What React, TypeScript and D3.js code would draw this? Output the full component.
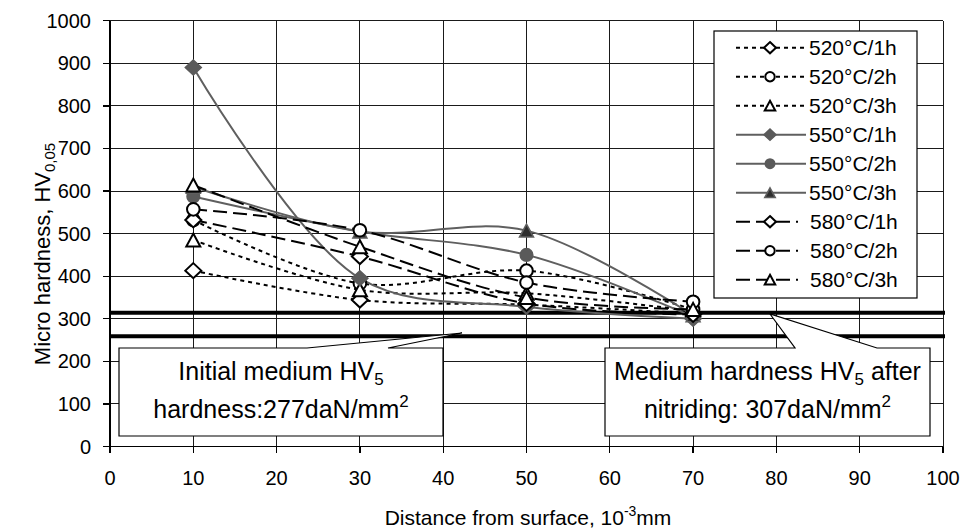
import React from 'react';
import * as d3 from 'd3';

// ---------- data ----------
const X_VALUES = [10, 30, 50, 70];
const SERIES_NAMES = [
  '520°C/1h', '520°C/2h', '520°C/3h',
  '550°C/1h', '550°C/2h', '550°C/3h',
  '580°C/1h', '580°C/2h', '580°C/3h',
];
const V520_1H = [413, 344, 333, 312];
const V520_2H = [532, 383, 413, 322];
const V520_3H = [485, 368, 360, 318];
const V550_1H = [890, 395, 328, 300];
const V550_2H = [587, 505, 450, 305];
const V550_3H = [610, 505, 507, 308];
const V580_1H = [532, 446, 336, 310];
const V580_2H = [557, 508, 385, 340];
const V580_3H = [614, 469, 350, 322];
const X_TICKS = [0, 10, 20, 30, 40, 50, 60, 70, 80, 90, 100];
const Y_TICKS = [0, 100, 200, 300, 400, 500, 600, 700, 800, 900, 1000];
const NITRIDED_LEVEL = 314;
const INITIAL_LEVEL = 259;

// ---------- layout ----------
const W = 963;
const H = 532;
const FONT = 'Liberation Sans, Arial, sans-serif';
const xS = d3.scaleLinear().domain([0, 100]).range([110, 943]);
const yS = d3.scaleLinear().domain([0, 1000]).range([446.5, 20.7]);

type Kind = 'diamond' | 'circle' | 'triangle';
type Style = 'dot' | 'solid' | 'dash';

const KINDS: Kind[] = ['diamond', 'circle', 'triangle'];
const STYLES: Style[] = ['dot', 'solid', 'dash'];
const VALUES = [V520_1H, V520_2H, V520_3H, V550_1H, V550_2H, V550_3H, V580_1H, V580_2H, V580_3H];

const SERIES = VALUES.map((values, i) => ({
  name: SERIES_NAMES[i],
  values,
  kind: KINDS[i % 3],
  style: STYLES[Math.floor(i / 3)],
}));

function markerPath(kind: Kind, k: number) {
  if (kind === 'diamond') {
    const w = 8 * k, h = 7.5 * k;
    return `M0,${-h}L${w},0L0,${h}L${-w},0Z`;
  }
  if (kind === 'triangle') {
    const w = 7 * k, h = 6.5 * k;
    return `M0,${-h}L${w},${h}L${-w},${h}Z`;
  }
  const r = 6.3 * k;
  return `M${r},0A${r},${r} 0 1 1 ${-r},0A${r},${r} 0 1 1 ${r},0Z`;
}

function lineStyle(style: Style) {
  if (style === 'dot') return { stroke: '#000', strokeWidth: 2, dash: '4,4' };
  if (style === 'dash') return { stroke: '#000', strokeWidth: 2, dash: '14,6' };
  return { stroke: '#5f5f5f', strokeWidth: 2, dash: undefined };
}

function markerStyle(style: Style, kind: Kind) {
  if (style === 'solid') {
    if (kind === 'triangle') return { fill: '#2e2e2e', stroke: '#5f5f5f', strokeWidth: 1.5 };
    return { fill: '#5a5a5a', stroke: '#5a5a5a', strokeWidth: 1.5 };
  }
  return { fill: '#fff', stroke: '#000', strokeWidth: 2 };
}

const lineGen = d3
  .line<number>()
  .x((_, i) => xS(X_VALUES[i]))
  .y((d) => yS(d))
  .curve(d3.curveCatmullRom.alpha(0.5));

export default function App() {
  const left = xS(0);
  const right = xS(100);
  const top = yS(1000);
  const bottom = yS(0);

  const legendX = 714;
  const legendY = 31;
  const legendW = 203;
  const legendH = 267;
  const rowH = 29;

  return (
    <svg
      width={W}
      height={H}
      viewBox={`0 0 ${W} ${H}`}
      style={{ position: 'absolute', left: 0, top: 0, background: '#fff', fontFamily: FONT }}
    >
      <rect x={0} y={0} width={W} height={H} fill="#fff" />
      {/* gridlines */}
      <g shapeRendering="crispEdges" stroke="#1a1a1a" strokeWidth={1}>
        {Y_TICKS.map((t) => (
          <line key={'gy' + t} x1={left} x2={right} y1={yS(t)} y2={yS(t)} />
        ))}
        {X_TICKS.map((t) => (
          <line key={'gx' + t} x1={xS(t)} x2={xS(t)} y1={top} y2={bottom} />
        ))}
      </g>
      {/* axes */}
      <g shapeRendering="crispEdges" stroke="#000" strokeWidth={1.3}>
        <line x1={left} x2={left} y1={top} y2={bottom} />
        <line x1={left} x2={right} y1={bottom} y2={bottom} />
        {Y_TICKS.map((t) => (
          <line key={'ty' + t} x1={left - 7} x2={left} y1={yS(t)} y2={yS(t)} />
        ))}
        {X_TICKS.map((t) => (
          <line key={'tx' + t} x1={xS(t)} x2={xS(t)} y1={bottom} y2={bottom + 6} />
        ))}
      </g>
      <g fontSize={20} fill="#000">
        {Y_TICKS.map((t) => (
          <text key={'ly' + t} x={91} y={yS(t) + 7} textAnchor="end">
            {t}
          </text>
        ))}
        {X_TICKS.map((t) => (
          <text key={'lx' + t} x={xS(t)} y={485} textAnchor="middle">
            {t}
          </text>
        ))}
      </g>
      {/* axis titles */}
      <text x={528} y={525} textAnchor="middle" fontSize={21}>
        Distance from surface, 10
        <tspan fontSize={14} dy={-9}>-3</tspan>
        <tspan dy={9}>mm</tspan>
      </text>
      <text transform="translate(50,254) rotate(-90)" textAnchor="middle" fontSize={22}>
        Micro hardness, HV
        <tspan fontSize={15} dy={5}>0,05</tspan>
      </text>
      {/* reference levels */}
      <g stroke="#000" strokeWidth={4}>
        <line x1={left} x2={right + 2} y1={yS(NITRIDED_LEVEL)} y2={yS(NITRIDED_LEVEL)} />
        <line x1={left} x2={right + 2} y1={yS(INITIAL_LEVEL)} y2={yS(INITIAL_LEVEL)} />
      </g>
      {/* series */}
      {SERIES.map((s) => {
        const ls = lineStyle(s.style);
        return (
          <path
            key={'l' + s.name}
            d={lineGen(s.values) || ''}
            fill="none"
            stroke={ls.stroke}
            strokeWidth={ls.strokeWidth}
            strokeDasharray={ls.dash}
          />
        );
      })}
      {SERIES.map((s) => {
        const ms = markerStyle(s.style, s.kind);
        return (
          <g key={'m' + s.name}>
            {s.values.map((v, i) => (
              <path
                key={i}
                transform={`translate(${xS(X_VALUES[i])},${yS(v)})`}
                d={markerPath(s.kind, 1)}
                fill={ms.fill}
                stroke={ms.stroke}
                strokeWidth={ms.strokeWidth}
              />
            ))}
          </g>
        );
      })}
      {/* callouts */}
      <path
        d="M119,348L307,348L462,333L388,348L443,348L443,436L119,436Z"
        fill="#fff"
        stroke="#000"
        strokeWidth={1.2}
      />
      <text x={281} y={380} textAnchor="middle" fontSize={25}>
        Initial medium HV<tspan fontSize={17} dy={5}>5</tspan>
      </text>
      <text x={281} y={418} textAnchor="middle" fontSize={25}>
        hardness:277daN/mm<tspan fontSize={17} dy={-11}>2</tspan>
      </text>
      <path
        d="M605,348L795,348L770,314L877,348L930,348L930,436L605,436Z"
        fill="#fff"
        stroke="#000"
        strokeWidth={1.2}
      />
      <text x={767.5} y={380} textAnchor="middle" fontSize={25}>
        Medium hardness HV<tspan fontSize={17} dy={5}>5</tspan>
        <tspan dy={-5}> after</tspan>
      </text>
      <text x={767.5} y={418} textAnchor="middle" fontSize={25}>
        nitriding: 307daN/mm<tspan fontSize={17} dy={-11}>2</tspan>
      </text>
      {/* legend */}
      <rect x={legendX} y={legendY} width={legendW} height={legendH} fill="#fff" stroke="#000" strokeWidth={1.2} />
      {SERIES.map((s, i) => {
        const cy = legendY + 16.7 + i * rowH;
        const ls = lineStyle(s.style);
        const ms = markerStyle(s.style, s.kind);
        return (
          <g key={'lg' + s.name}>
            <line
              x1={736}
              x2={s.style === 'dash' ? 798 : 806}
              y1={cy}
              y2={cy}
              stroke={ls.stroke}
              strokeWidth={ls.strokeWidth}
              strokeDasharray={ls.dash}
            />
            <path
              transform={`translate(770,${cy})`}
              d={markerPath(s.kind, 0.75)}
              fill={ms.fill}
              stroke={ms.stroke}
              strokeWidth={ms.strokeWidth}
            />
            <text x={s.style === 'dash' ? 810 : 809} y={cy + 7.3} fontSize={21}>
              {s.name}
            </text>
          </g>
        );
      })}
    </svg>
  );
}
